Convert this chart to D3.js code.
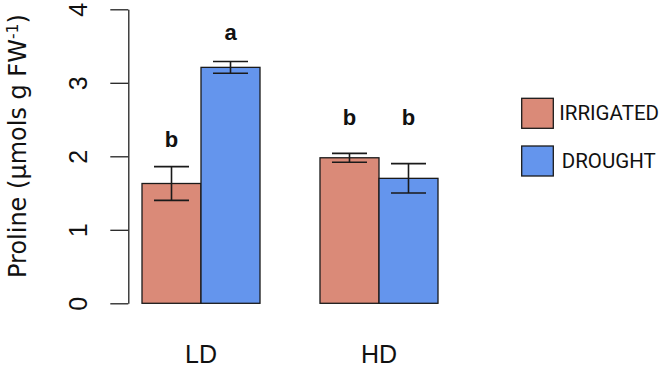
<!DOCTYPE html>
<html>
<head>
  <meta charset="utf-8">
  <title>Proline</title>
<script src="https://d3js.org/d3.v7.min.js"></script>
  <style>
    body { margin: 0; background: #fff; }
    .axis path, .axis line { stroke: #222; stroke-width: 1.3px; }
    .axis text { font: 25px "Liberation Sans", Arial, sans-serif; fill: #111; }
    .bar { stroke: #1a1a1a; stroke-width: 1.3px; }
    .err { stroke: #1a1a1a; stroke-width: 1.6px; fill: none; }
    .letter { font: bold 22px "Liberation Sans", Arial, sans-serif; fill: #111; text-anchor: middle; }
    .group-label { font: 25px "Liberation Sans", Arial, sans-serif; fill: #111; text-anchor: middle; }
    .legend text { font: 20.5px Roboto, sans-serif; fill: #111; }
    .ytitle { font: 24px "DejaVu Sans", sans-serif; fill: #111; }
  </style>
</head>
<body>
  <script>
    // values
    const groups = ["LD", "HD"];
    const treatments = ["IRRIGATED", "DROUGHT"];
    const colors = ["#DA8A78", "#6495ED"];
    const irrigated = [1.63, 1.98];
    const drought = [3.21, 1.70];
    const irrigatedSE = [0.23, 0.06];
    const droughtSE = [0.08, 0.20];
    const irrigatedLetters = ["b", "b"];
    const droughtLetters = ["a", "b"];
    const irrigatedLetterY = [2.13, 2.42];
    const droughtLetterY = [3.585, 2.42];
    const yTicks = [0, 1, 2, 3, 4];

    const width = 664, height = 368;

    const svg = d3.select("body").append("svg")
        .attr("width", width)
        .attr("height", height);

    const y = d3.scaleLinear().domain([0, 4]).range([303.3, 9.3]);

    const x = d3.scaleBand().domain(groups).range([142, 438])
        .paddingInner(0.337).paddingOuter(0);
    const xSub = d3.scaleBand().domain(treatments).range([0, x.bandwidth()]);

    // build rows for drawing
    const rows = [];
    groups.forEach((g, i) => {
      rows.push({ group: g, trt: treatments[0], value: irrigated[i], se: irrigatedSE[i],
                  letter: irrigatedLetters[i], ly: irrigatedLetterY[i], color: colors[0] });
      rows.push({ group: g, trt: treatments[1], value: drought[i], se: droughtSE[i],
                  letter: droughtLetters[i], ly: droughtLetterY[i], color: colors[1] });
    });

    // y axis
    const yAxis = svg.append("g")
        .attr("class", "axis")
        .attr("transform", "translate(128.3,0)")
        .call(d3.axisLeft(y).tickValues(yTicks).tickSize(18).tickSizeOuter(0).tickFormat(d3.format("d")));

    yAxis.selectAll(".tick text")
        .attr("x", null)
        .attr("dy", null)
        .attr("transform", "translate(-41,0) rotate(-90)")
        .style("text-anchor", "middle");

    // y title
    svg.append("text")
        .attr("class", "ytitle")
        .attr("transform", "translate(26,278) rotate(-90)")
        .call(t => {
          t.append("tspan").text("Proline (\u00b5mols g FW");
          t.append("tspan").attr("dy", -8).style("font-size", "15.5px").text("-1");
          t.append("tspan").attr("dy", 8).text(")");
        });

    const xPos = d => x(d.group) + xSub(d.trt);
    const xMid = d => xPos(d) + xSub.bandwidth() / 2;

    // bars
    svg.selectAll(".bar")
        .data(rows)
        .enter().append("rect")
        .attr("class", "bar")
        .attr("x", xPos)
        .attr("width", xSub.bandwidth())
        .attr("y", d => y(d.value))
        .attr("height", d => y(0) - y(d.value))
        .attr("fill", d => d.color);

    // error bars
    const capHalf = 17.5;
    const err = svg.selectAll(".errbar")
        .data(rows)
        .enter().append("g")
        .attr("class", "errbar");

    err.append("line").attr("class", "err")
        .attr("x1", xMid).attr("x2", xMid)
        .attr("y1", d => y(d.value + d.se)).attr("y2", d => y(d.value - d.se));
    err.append("line").attr("class", "err")
        .attr("x1", d => xMid(d) - capHalf).attr("x2", d => xMid(d) + capHalf)
        .attr("y1", d => y(d.value + d.se)).attr("y2", d => y(d.value + d.se));
    err.append("line").attr("class", "err")
        .attr("x1", d => xMid(d) - capHalf).attr("x2", d => xMid(d) + capHalf)
        .attr("y1", d => y(d.value - d.se)).attr("y2", d => y(d.value - d.se));

    // significance letters
    svg.selectAll(".letter")
        .data(rows)
        .enter().append("text")
        .attr("class", "letter")
        .attr("x", xMid)
        .attr("y", d => y(d.ly))
        .text(d => d.letter);

    // group labels
    svg.selectAll(".group-label")
        .data(groups)
        .enter().append("text")
        .attr("class", "group-label")
        .attr("x", d => x(d) + x.bandwidth() / 2)
        .attr("y", 363)
        .text(d => d);

    // legend
    const legend = svg.append("g").attr("class", "legend");
    const li = legend.selectAll("g")
        .data(treatments)
        .enter().append("g")
        .attr("transform", (d, i) => "translate(521.7," + (98.3 + i * 47.7) + ")");
    li.append("rect")
        .attr("width", 31.6).attr("height", 30)
        .attr("fill", (d, i) => colors[i])
        .attr("stroke", "#1a1a1a").attr("stroke-width", 1.3);
    li.append("text")
        .attr("x", (d, i) => i === 0 ? 37.5 : 40)
        .attr("y", 22)
        .text(d => d);
  </script>
</body>
</html>
